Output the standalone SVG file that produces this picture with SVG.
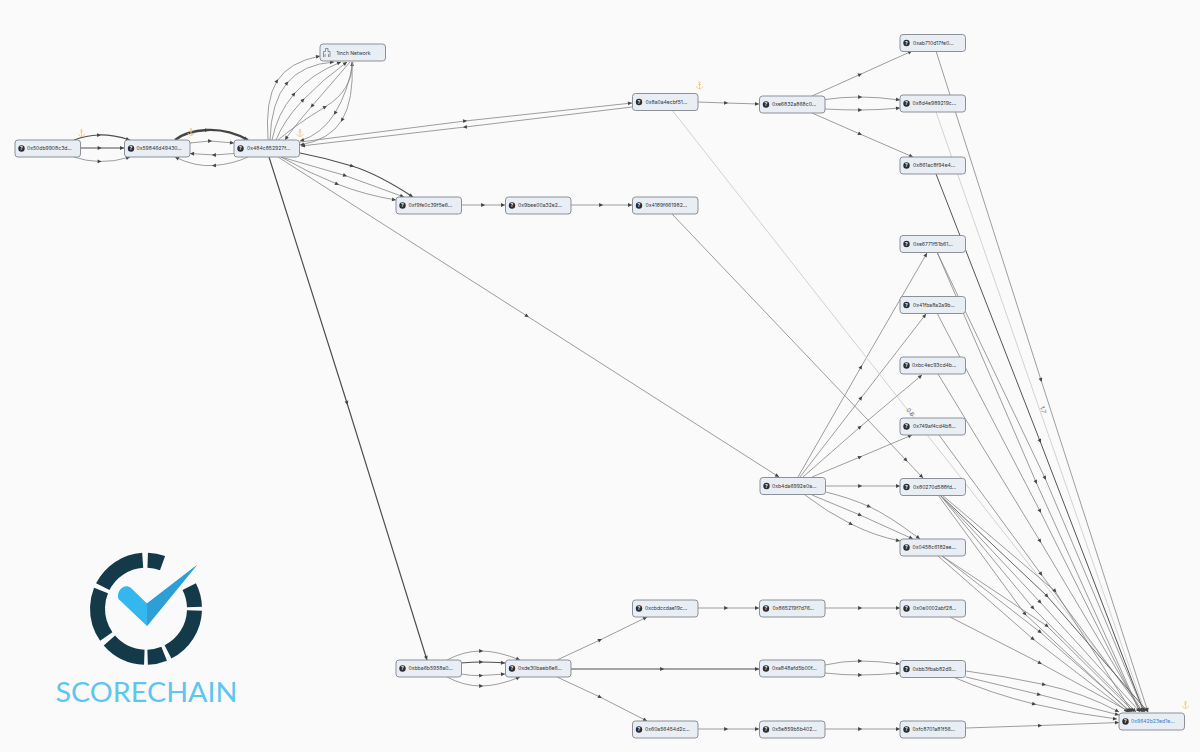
<svg xmlns="http://www.w3.org/2000/svg" width="1200" height="752" viewBox="0 0 1200 752">
<style>
text{font-family:"Inter","Liberation Sans",sans-serif}
.n{fill:#e9edf4;stroke:#8b9099;stroke-width:1}
.t{font-size:5.1px;fill:#333}
.q{fill:#2a2d33}
.qt{font-size:5px;fill:#fff;font-weight:700;text-anchor:middle}
#edges path{fill:none;stroke:#858585;stroke-width:.8;marker-mid:url(#m);marker-end:url(#h)}
#edges path.d{stroke:#4f4f4f;stroke-width:1.2}
#edges path.k{stroke:#444;stroke-width:2.4}
#edges path.l{stroke:#c8c8c8;stroke-width:.8;marker-mid:none}
.lb{font-size:6px;fill:#666}
.an{fill:none;stroke:#eecb8a;stroke-width:.9}
</style>
<defs>
<marker id="m" markerUnits="userSpaceOnUse" markerWidth="5" markerHeight="5" refX="2.500" refY="2.500" orient="auto"><path d="M.6 .6L4.600 2.500L.6 4.400Z" fill="#444"/></marker>
<marker id="h" markerUnits="userSpaceOnUse" markerWidth="5" markerHeight="5" refX="4.600" refY="2.500" orient="auto"><path d="M.6 .6L4.600 2.500L.6 4.400Z" fill="#444"/></marker>
<symbol id="an" viewBox="0 0 8 8" overflow="visible"><path class="an" d="M4 1.800V7.400M2.600 3H5.400M.8 4.800C1.200 6.600 2.800 7.400 4 7.400S6.800 6.600 7.200 4.800"/><circle class="an" cx="4" cy="1" r=".8"/></symbol>
</defs>
<rect width="1200" height="752" fill="#fafafa"/>
<g id="edges">
<path class="d" d="M74 140Q86 135.500 99 135T130 140"/>
<path class="d" d="M80 148L99.500 148L124 148"/>
<path d="M74 157Q85 161 99.500 161.500T130 157"/>
<path class="k" d="M175 140Q186 131 207 130T248 140"/>
<path d="M190 143L210 141L234 143"/>
<path d="M234 153.500L214 155L190 153.500"/>
<path d="M248 157Q233 164 214 165.500T175 157"/>
<path d="M268 140Q265 100 277 81T320 56"/>
<path d="M270 140Q271 102 287 83T334 62"/>
<path d="M272 140Q277 114 294 94T341 62"/>
<path d="M276 140Q284 120 303 100T347 62"/>
<path d="M350 62Q331 84 312 106T285 140"/>
<path d="M278 140Q297 124 325 107T352 62"/>
<path d="M353 62Q348 92 335 113T300 141"/>
<path d="M352 62Q354 100 342 120T300 145"/>
<path d="M300 142L465 121L632 103"/>
<path d="M632 107L465 127L301 146"/>
<path class="d" d="M300 153Q326 158 352 166T413 197"/>
<path d="M281 157L345 175.500L404 197"/>
<path d="M281 157Q309 173 337 184T396 200"/>
<path d="M278 157L527 316L779 477"/>
<path class="d" d="M269 157L347 403L427 660"/>
<path d="M462 205L483 205L505 205"/>
<path d="M571 205L601 205L632 205"/>
<path d="M698 102L726 103L759 104"/>
<path d="M812 96L860 74.500L912 51"/>
<path d="M825 99.500Q842 97 860 97T900 100"/>
<path d="M825 109Q842 110 860 110T900 108"/>
<path d="M812 113L860 134L913 157"/>
<path d="M798 477L861 367L927 253"/>
<path d="M800 477L861 398L926 314"/>
<path d="M803 477L860 427L922 375"/>
<path d="M812 477L860 457L912 435"/>
<path d="M826 486L860 486L900 486"/>
<path d="M826 492Q850 498 869 506.500T920 539"/>
<path d="M812 495L860 515L913 539"/>
<path d="M805 495Q827 512 851 524T900 541"/>
<path class="l" d="M672 110L1145 712"/>
<path class="l" d="M936 112L1145 712"/>
<path d="M936 51L1041 380L1148 712"/>
<path style="stroke:#555;stroke-width:1" d="M936 174L1040 441L1144 712"/>
<path d="M937 252L1045 478L1144 712"/>
<path d="M937 252L1036 482L1140 712"/>
<path d="M937 313L1040 511L1140 712"/>
<path d="M938 374L1040 541L1142 712"/>
<path d="M939 435L1041 574L1143 712"/>
<path d="M672 214L906 460L923 478"/>
<path d="M942 495L1055 591L1132 712"/>
<path style="stroke:#666;stroke-width:1" d="M940 495L1047 596L1148 712"/>
<path d="M940 495L1040 602L1140 712"/>
<path d="M940 495L1033 608L1136 712"/>
<path d="M938 495L1025 614L1130 712"/>
<path d="M942 556L1047 626L1134 712"/>
<path d="M942 556L1040 632L1131 712"/>
<path d="M938 556L1033 639L1128 712"/>
<path d="M950 617L1040 663L1130 712"/>
<path d="M966 671Q1004 676 1044 684.500T1119 712"/>
<path d="M966 677L1039 694.500L1119 715"/>
<path d="M953 677Q993 694 1034 704T1117 719"/>
<path d="M966 728L1040 725.500L1119 722.500"/>
<path d="M447 660Q464 651 481 651T520 660"/>
<path class="d" d="M461 663Q472 662 481 662T505 663"/>
<path d="M461 674Q472 676 481 675.500T505 674"/>
<path d="M447 677Q464 686 481 686T520 677"/>
<path d="M557 660L600 640L647 617"/>
<path class="d" d="M571 669L662 669L759 669"/>
<path d="M557 677L600 697L647 721"/>
<path d="M698 608L726 608L759 608"/>
<path d="M825 608L860 608L900 608"/>
<path d="M825 665Q842 661 860 661T900 664"/>
<path d="M825 673Q842 675 860 675T900 673"/>
<path d="M698 729L726 729L759 729"/>
<path d="M825 729L860 729L900 729"/>
</g>
<text class="lb" transform="translate(906 410) rotate(52)">0.6</text>
<text class="lb" transform="translate(1040 407) rotate(71)">1.7</text>
<g id="n1"><rect class="n" x="15" y="140" width="65.500" height="17" rx="3"/><circle class="q" cx="21.500" cy="148.500" r="3.200"/><text class="qt" x="21.500" y="150.300">?</text><text class="t" x="27" y="150.300">0x50db9908c3d...</text></g>
<g id="n2"><rect class="n" x="124.500" y="140" width="65.500" height="17" rx="3"/><circle class="q" cx="131" cy="148.500" r="3.200"/><text class="qt" x="131" y="150.300">?</text><text class="t" x="136.500" y="150.300">0x59846d49430...</text></g>
<g id="n3"><rect class="n" x="234" y="140" width="65.500" height="17" rx="3"/><circle class="q" cx="240.500" cy="148.500" r="3.200"/><text class="qt" x="240.500" y="150.300">?</text><text class="t" x="247" y="150.300">0x484c852927f...</text></g>
<g id="n4"><rect class="n" x="320" y="44" width="65.500" height="17" rx="3"/><path d="M323.500 57V51.500H325.500V48.500H328V51.500H330V57M325 57V54M328.500 57V54" fill="none" stroke="#777" stroke-width=".8"/><text class="t" x="336.500" y="54.800">1inch Network</text></g>
<g id="n5"><rect class="n" x="396" y="197" width="65.500" height="17" rx="3"/><circle class="q" cx="402.500" cy="205.500" r="3.200"/><text class="qt" x="402.500" y="207.300">?</text><text class="t" x="408.500" y="207.300">0xf9fe0c39f5e6...</text></g>
<g id="n6"><rect class="n" x="505.500" y="197" width="65.500" height="17" rx="3"/><circle class="q" cx="512" cy="205.500" r="3.200"/><text class="qt" x="512" y="207.300">?</text><text class="t" x="518" y="207.300">0x9bee00a32e2...</text></g>
<g id="n7"><rect class="n" x="632.500" y="197" width="65.500" height="17" rx="3"/><circle class="q" cx="639" cy="205.500" r="3.200"/><text class="qt" x="639" y="207.300">?</text><text class="t" x="645.500" y="207.300">0x4189f661982...</text></g>
<g id="n8"><rect class="n" x="632.500" y="93.500" width="65.500" height="17" rx="3"/><circle class="q" cx="639" cy="102" r="3.200"/><text class="qt" x="639" y="103.800">?</text><text class="t" x="645.500" y="103.800">0x8a0a4ecbf51...</text></g>
<g id="n9"><rect class="n" x="759.500" y="96" width="65.500" height="17" rx="3"/><circle class="q" cx="766" cy="104.500" r="3.200"/><text class="qt" x="766" y="106.300">?</text><text class="t" x="772" y="106.300">0xe6832a868c0...</text></g>
<g id="n10"><rect class="n" x="900" y="34.500" width="65.500" height="17" rx="3"/><circle class="q" cx="906.500" cy="43" r="3.200"/><text class="qt" x="906.500" y="44.800">?</text><text class="t" x="913" y="44.800">0xab710d17fe0...</text></g>
<g id="n11"><rect class="n" x="900" y="95" width="65.500" height="17" rx="3"/><circle class="q" cx="906.500" cy="103.500" r="3.200"/><text class="qt" x="906.500" y="105.300">?</text><text class="t" x="912.500" y="105.300">0x8d4e989219c...</text></g>
<g id="n12"><rect class="n" x="900" y="157" width="65.500" height="17" rx="3"/><circle class="q" cx="906.500" cy="165.500" r="3.200"/><text class="qt" x="906.500" y="167.300">?</text><text class="t" x="913" y="167.300">0x861ac8f94e4...</text></g>
<g id="n13"><rect class="n" x="900" y="235.500" width="65.500" height="17" rx="3"/><circle class="q" cx="906.500" cy="244" r="3.200"/><text class="qt" x="906.500" y="245.800">?</text><text class="t" x="913" y="245.800">0xe6771f51b61...</text></g>
<g id="n14"><rect class="n" x="900" y="296.500" width="65.500" height="17" rx="3"/><circle class="q" cx="906.500" cy="305" r="3.200"/><text class="qt" x="906.500" y="306.800">?</text><text class="t" x="913" y="306.800">0x41fba8a2a9b...</text></g>
<g id="n15"><rect class="n" x="900" y="357" width="65.500" height="17" rx="3"/><circle class="q" cx="906.500" cy="365.500" r="3.200"/><text class="qt" x="906.500" y="367.300">?</text><text class="t" x="912" y="367.300">0xbc4ec93cd4b...</text></g>
<g id="n16"><rect class="n" x="900" y="418" width="65.500" height="17" rx="3"/><circle class="q" cx="906.500" cy="426.500" r="3.200"/><text class="qt" x="906.500" y="428.300">?</text><text class="t" x="913" y="428.300">0x749af4cd4b8...</text></g>
<g id="n17"><rect class="n" x="760" y="477.500" width="65.500" height="17" rx="3"/><circle class="q" cx="766.500" cy="486" r="3.200"/><text class="qt" x="766.500" y="487.800">?</text><text class="t" x="772" y="487.800">0xb4da6992e0a...</text></g>
<g id="n18"><rect class="n" x="900" y="478.500" width="65.500" height="17" rx="3"/><circle class="q" cx="906.500" cy="487" r="3.200"/><text class="qt" x="906.500" y="488.800">?</text><text class="t" x="913" y="488.800">0x80270d588fd...</text></g>
<g id="n19"><rect class="n" x="900" y="539" width="65.500" height="17" rx="3"/><circle class="q" cx="906.500" cy="547.500" r="3.200"/><text class="qt" x="906.500" y="549.300">?</text><text class="t" x="912.500" y="549.300">0x0458c6182ee...</text></g>
<g id="n20"><rect class="n" x="632.500" y="600" width="65.500" height="17" rx="3"/><circle class="q" cx="639" cy="608.500" r="3.200"/><text class="qt" x="639" y="610.300">?</text><text class="t" x="645" y="610.300">0xcbdccdae19c...</text></g>
<g id="n21"><rect class="n" x="759.500" y="600" width="65.500" height="17" rx="3"/><circle class="q" cx="766" cy="608.500" r="3.200"/><text class="qt" x="766" y="610.300">?</text><text class="t" x="772.500" y="610.300">0x865219f7d76...</text></g>
<g id="n22"><rect class="n" x="900" y="600" width="65.500" height="17" rx="3"/><circle class="q" cx="906.500" cy="608.500" r="3.200"/><text class="qt" x="906.500" y="610.300">?</text><text class="t" x="913" y="610.300">0x0e0002abf28...</text></g>
<g id="n23"><rect class="n" x="396" y="660" width="65.500" height="17" rx="3"/><circle class="q" cx="402.500" cy="668.500" r="3.200"/><text class="qt" x="402.500" y="670.300">?</text><text class="t" x="408.500" y="670.300">0xbba6b5958a0...</text></g>
<g id="n24"><rect class="n" x="505.500" y="660" width="65.500" height="17" rx="3"/><circle class="q" cx="512" cy="668.500" r="3.200"/><text class="qt" x="512" y="670.300">?</text><text class="t" x="518" y="670.300">0xde30baeb6e6...</text></g>
<g id="n25"><rect class="n" x="759.500" y="660" width="65.500" height="17" rx="3"/><circle class="q" cx="766" cy="668.500" r="3.200"/><text class="qt" x="766" y="670.300">?</text><text class="t" x="772" y="670.300">0xa848afd5b00f...</text></g>
<g id="n26"><rect class="n" x="900" y="660.500" width="65.500" height="17" rx="3"/><circle class="q" cx="906.500" cy="669" r="3.200"/><text class="qt" x="906.500" y="670.800">?</text><text class="t" x="912.500" y="670.800">0xbb3fbab82d9...</text></g>
<g id="n27"><rect class="n" x="632.500" y="721" width="65.500" height="17" rx="3"/><circle class="q" cx="639" cy="729.500" r="3.200"/><text class="qt" x="639" y="731.300">?</text><text class="t" x="645" y="731.300">0x60a56454d2c...</text></g>
<g id="n28"><rect class="n" x="759.500" y="721" width="65.500" height="17" rx="3"/><circle class="q" cx="766" cy="729.500" r="3.200"/><text class="qt" x="766" y="731.300">?</text><text class="t" x="772" y="731.300">0x5e859b5b402...</text></g>
<g id="n29"><rect class="n" x="900" y="721" width="65.500" height="17" rx="3"/><circle class="q" cx="906.500" cy="729.500" r="3.200"/><text class="qt" x="906.500" y="731.300">?</text><text class="t" x="912.500" y="731.300">0xfc8701a81f56...</text></g>
<g id="n30"><rect class="n" x="1119" y="713" width="65.500" height="17" rx="3"/><circle class="q" cx="1125.500" cy="721.500" r="3.200"/><text class="qt" x="1125.500" y="723.300">?</text><text class="t" x="1131" y="723.300" style="fill:#2b7fd0">0x9642b23ed1e...</text></g>
<g id="anchors">
<use href="#an" x="77.500" y="129" width="8" height="8"/>
<use href="#an" x="187" y="128" width="8" height="8"/>
<use href="#an" x="296" y="129" width="8" height="8"/>
<use href="#an" x="695.500" y="81.500" width="8" height="8"/>
<use href="#an" x="1181.500" y="701" width="8" height="8"/>
</g>
<g id="logo">
<circle cx="146" cy="608.700" r="48.500" fill="none" stroke="#143a4a" stroke-width="15" pathLength="360" stroke-dasharray="18 43 25 4 61 5 20 4 47 6 57 5 59 6" transform="rotate(-88 146 608.700)"/>
<path d="M118.500 599C116 593 122 585 128 586.500C130 587 131 588 132 589L147 603.500L197 565L147 626Z" fill="#34b7ee"/>
<path d="M197 565L147 603.500V626Z" fill="#2e9fd6"/>
<text x="55.500" y="702" font-size="27" fill="#5ec5ee" textLength="182" lengthAdjust="spacingAndGlyphs" style="font-family:Lato,'Liberation Sans',sans-serif">SCORECHAIN</text>
</g>
</svg>
